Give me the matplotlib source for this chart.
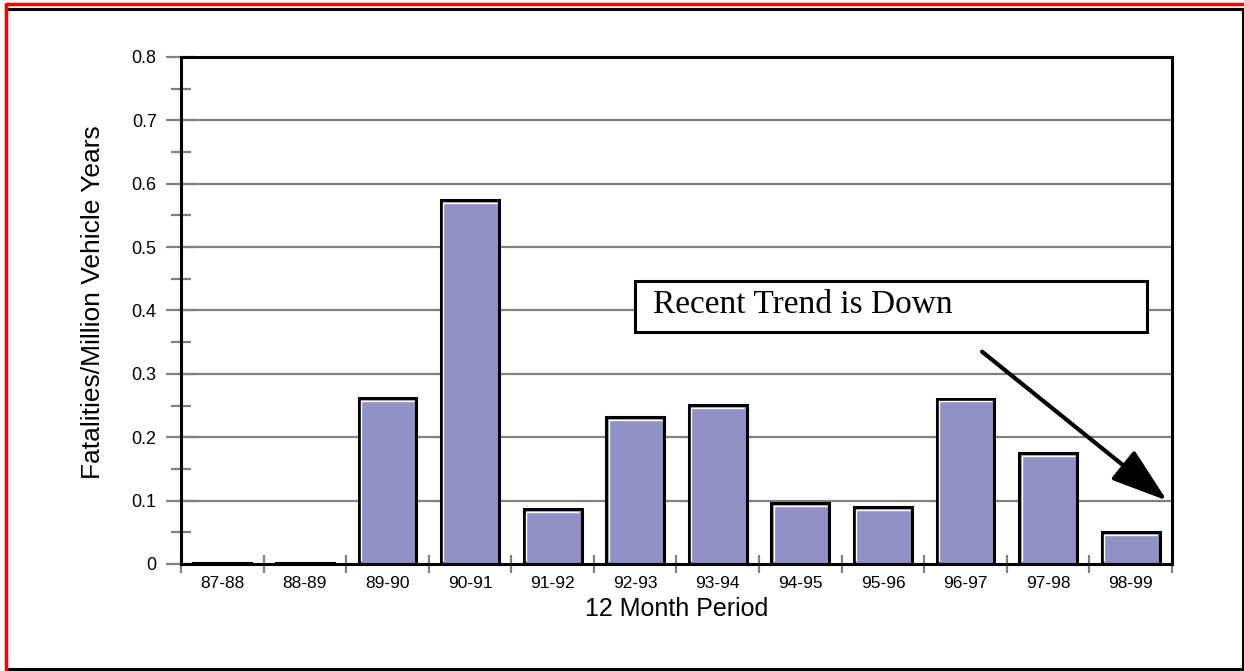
import matplotlib
matplotlib.use("Agg")
import matplotlib.pyplot as plt
from matplotlib.patches import Rectangle
from matplotlib.lines import Line2D

# ---- datos ----
periods = ["87-88", "88-89", "89-90", "90-91", "91-92", "92-93",
           "93-94", "94-95", "95-96", "96-97", "97-98", "98-99"]
fatality_rate = [0.002, 0.002, 0.262, 0.574, 0.086, 0.232,
                 0.251, 0.096, 0.090, 0.261, 0.175, 0.050]

y_ticks = [0.0, 0.1, 0.2, 0.3, 0.4, 0.5, 0.6, 0.7, 0.8]
y_labels = ["0", "0.1", "0.2", "0.3", "0.4", "0.5", "0.6", "0.7", "0.8"]

note_text = "Recent Trend is Down"

BAR_COLOR = "#9191c8"
GRID_GRAY = "#808080"

plt.rcParams['font.family'] = ['Liberation Sans', 'DejaVu Sans']

fig = plt.figure(figsize=(12.44, 6.71), dpi=100)
ax = fig.add_axes([0.1455, 0.1595, 0.7966, 0.7556])

x = list(range(len(periods)))
bw = 0.7

ax.set_xlim(-0.5, len(periods) - 0.5)
ax.set_ylim(0, 0.8)

# grid horizontal
for yv in y_ticks[1:-1]:
    ax.axhline(yv, color=GRID_GRAY, lw=1.6, zorder=1)

# barras con borde negro y brillo blanco arriba/izquierda
bars = ax.bar(x, fatality_rate, width=bw, color=BAR_COLOR,
              edgecolor="black", linewidth=2.2, zorder=3)
dx_hl = 0.028
dy_hl = 0.0045
for xi, h in zip(x, fatality_rate):
    if h < 0.01:
        continue
    x0 = xi - bw / 2 + dx_hl
    x1 = xi + bw / 2 - dx_hl
    ax.plot([x0, x0, x1], [0.004, h - dy_hl, h - dy_hl],
            color="white", lw=1.0, zorder=4, solid_capstyle="butt")

# ejes
for side in ["left", "bottom", "top", "right"]:
    ax.spines[side].set_linewidth(2.2)
    ax.spines[side].set_color("black")
    ax.spines[side].set_zorder(5)

ax.set_yticks(y_ticks)
ax.set_yticklabels(y_labels)
ax.set_yticks([0.05 + 0.1 * i for i in range(8)], minor=True)
ax.tick_params(axis="y", which="major", direction="inout", length=21,
               width=1.6, color=GRID_GRAY, labelsize=13, pad=7)
ax.tick_params(axis="y", which="minor", direction="inout", length=15,
               width=1.6, color=GRID_GRAY)

ax.set_xticks(x)
ax.set_xticklabels(periods)
ax.set_xticks([i - 0.5 for i in range(len(periods) + 1)], minor=True)
ax.tick_params(axis="x", which="major", length=0, labelsize=12.5, pad=9)
ax.tick_params(axis="x", which="minor", direction="inout", length=13,
               width=1.6, color=GRID_GRAY)

ax.set_ylabel("Fatalities/Million Vehicle Years", fontsize=19)
ax.yaxis.set_label_coords(-0.0765, 0.516)
ax.set_xlabel("12 Month Period", fontsize=18, labelpad=4)

# recuadro de nota
box = Rectangle((5.0, 0.3665), 6.195, 0.0805, facecolor="white",
                edgecolor="black", linewidth=2.2, zorder=6)
ax.add_patch(box)
ax.text(5.22, 0.3965, note_text, fontsize=24, family=['Liberation Serif'],
        va="baseline", ha="left", zorder=7)

# flecha
ax.annotate("", xy=(11.44, 0.1), xytext=(9.2, 0.335),
            arrowprops=dict(arrowstyle="-|>,head_length=1.0,head_width=0.33",
                            lw=3, color="black", mutation_scale=35,
                            shrinkA=0, shrinkB=0),
            zorder=8)

# marco exterior
fig.add_artist(Line2D([8 / 1244, 1243 / 1244, 1243 / 1244, 8 / 1244],
                      [1 - 9 / 671, 1 - 9 / 671, 1 - 669 / 671, 1 - 669 / 671],
                      transform=fig.transFigure, color="black", lw=2.2))
fig.add_artist(Line2D([6 / 1244, 6 / 1244, 1244 / 1244],
                      [1 - 670 / 671, 1 - 4 / 671, 1 - 4 / 671],
                      transform=fig.transFigure, color="red", lw=2.5))

fig.savefig("out.png", dpi=100)
